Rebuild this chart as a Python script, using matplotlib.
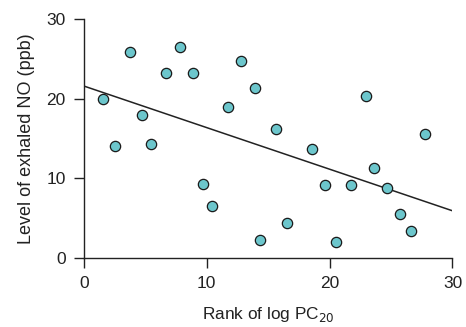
import numpy as np
import matplotlib.pyplot as plt

plt.rcParams['font.family'] = ['Liberation Sans', 'DejaVu Sans']

# rank of log PC20 vs exhaled NO (ppb)
rank = [1.55, 2.5, 3.75, 4.7, 5.5, 6.7, 7.85, 8.9, 9.7, 10.45, 11.75, 12.8, 13.95,
        14.35, 15.6, 16.55, 18.55, 19.65, 20.55, 21.7, 22.95, 23.6, 24.7, 25.7, 26.6, 27.8]
no_level = [20.0, 14.1, 25.9, 17.9, 14.3, 23.3, 26.5, 23.3, 9.3, 6.5, 18.9, 24.8, 21.3,
            2.2, 16.2, 4.4, 13.7, 9.1, 2.0, 9.1, 20.3, 11.3, 8.8, 5.5, 3.4, 15.6]

# regression line end points
fit_x = [0, 30]
fit_y = [21.6, 5.9]

fig = plt.figure(figsize=(4.66, 3.27), dpi=100)
ax = fig.add_axes([0.180, 0.212, 0.791, 0.729])

ax.plot(fit_x, fit_y, color='#222222', lw=1.1, zorder=2)
ax.scatter(rank, no_level, s=55, color='#6cc6cc', edgecolor='#1a1a1a', linewidth=0.9, zorder=3)

ax.set_xlim(0, 30)
ax.set_ylim(0, 30)
ax.set_xticks([0, 10, 20, 30])
ax.set_yticks([0, 10, 20, 30])
for s in ['top', 'right']:
    ax.spines[s].set_visible(False)
for s in ['left', 'bottom']:
    ax.spines[s].set_linewidth(1.0)
    ax.spines[s].set_color('#222222')
ax.tick_params(direction='out', length=7, width=1.0, labelsize=12.5, colors='#222222', pad=6)
ax.set_xlabel('Rank of log PC$_{20}$', fontsize=12.4, color='#222222', labelpad=10)
ax.set_ylabel('Level of exhaled NO (ppb)', fontsize=13, color='#222222', labelpad=8)

fig.savefig('out.png', dpi=100)
